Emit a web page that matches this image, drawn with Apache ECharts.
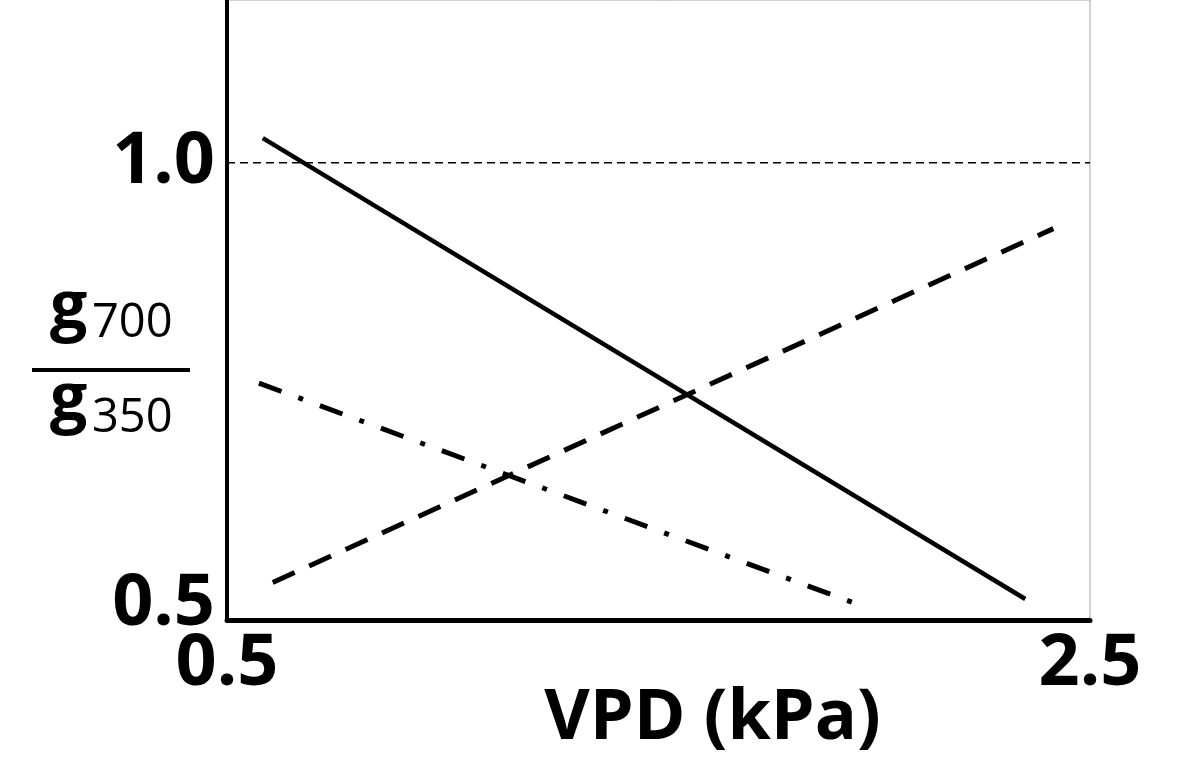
<!DOCTYPE html>
<html><head><meta charset="utf-8">
<script src="https://cdn.jsdelivr.net/npm/echarts@6/dist/echarts.min.js"></script>
<style>html,body{margin:0;padding:0;background:#fff}#c{width:1200px;height:774px}</style>
</head><body><div id="c"></div>
<script>
var xTickLabels = ['0.5', '2.5'];
var yTickLabels = ['0.5', '1.0'];
var solidX = [0.583, 2.35];
var solidY = [1.027, 0.523];
var dashedX = [0.606, 2.415];
var dashedY = [0.541, 0.928];
var dashDotX = [0.574, 1.98];
var dashDotY = [0.759, 0.514];
var refX = [0.5, 2.5];
var refY = [1.0, 1.0];
var xName = 'VPD (kPa)';
var yNum = ['g', '700'];
var yDen = ['g', '350'];

function pairs(xs, ys) { return xs.map(function (x, i) { return [x, ys[i]]; }); }
var FONT = '"Open Sans", "Noto Sans", sans-serif';
var chart = echarts.init(document.getElementById('c'));
chart.setOption({
  animation: false,
  backgroundColor: '#fff',
  grid: { left: 227, right: 110, top: 0, bottom: 154, containLabel: false, outerBoundsMode: 'none',
    show: true, borderColor: '#9aa4ae', borderWidth: 1, backgroundColor: 'transparent' },
  xAxis: {
    type: 'value', min: 0.5, max: 2.5, interval: 2,
    axisLine: { show: true, lineStyle: { color: '#000', width: 5 } },
    axisTick: { show: false }, splitLine: { show: false },
    axisLabel: { margin: 8, color: '#000', fontFamily: FONT, fontWeight: 'bold', fontSize: 72,
      formatter: function (v) { var i = [0.5, 2.5].indexOf(+v.toFixed(2)); return i >= 0 ? xTickLabels[i] : ''; } },
    name: xName, nameLocation: 'middle', nameGap: 64, nameMoveOverlap: false,
    nameTextStyle: { color: '#000', fontFamily: FONT, fontWeight: 'bold', fontSize: 70, padding: [0, 0, 0, 108] }
  },
  yAxis: {
    type: 'value', min: 0.5, max: 1.178, interval: 0.5,
    axisLine: { show: true, lineStyle: { color: '#000', width: 4 } },
    axisTick: { show: false }, splitLine: { show: false },
    axisLabel: { margin: 12, color: '#000', fontFamily: FONT, fontWeight: 'bold', fontSize: 72,
      formatter: function (v) {
        var i = [0.5, 1.0].indexOf(+v.toFixed(2));
        if (i === 0) return '{lo|' + yTickLabels[0] + '}';
        return i >= 0 ? yTickLabels[i] : '';
      },
      rich: { lo: { fontFamily: FONT, fontWeight: 'bold', fontSize: 72, color: '#000', padding: [0, 0, 32, 0] } } }
  },
  graphic: [
    { type: 'text', left: 50, top: 276, style: { text: yNum[0], font: 'bold 66px ' + FONT, fill: '#000' } },
    { type: 'text', left: 92, top: 300, style: { text: yNum[1], font: '47px ' + FONT, fill: '#000' } },
    { type: 'line', shape: { x1: 32, y1: 370, x2: 190, y2: 370 }, style: { stroke: '#000', lineWidth: 4 } },
    { type: 'text', left: 50, top: 368, style: { text: yDen[0], font: 'bold 66px ' + FONT, fill: '#000' } },
    { type: 'text', left: 92, top: 395, style: { text: yDen[1], font: '47px ' + FONT, fill: '#000' } }
  ],
  series: [
    { type: 'line', data: pairs(refX, refY), symbol: 'none', lineStyle: { color: '#000', width: 1.5, type: [8, 5] } },
    { type: 'line', data: pairs(solidX, solidY), symbol: 'none', lineStyle: { color: '#000', width: 4.5, type: 'solid' } },
    { type: 'line', data: pairs(dashedX, dashedY), symbol: 'none', lineStyle: { color: '#000', width: 5, type: [24, 16] } },
    { type: 'line', data: pairs(dashDotX, dashDotY), symbol: 'none', lineStyle: { color: '#000', width: 5, type: [24, 18, 5, 18] } }
  ]
});
</script></body></html>
